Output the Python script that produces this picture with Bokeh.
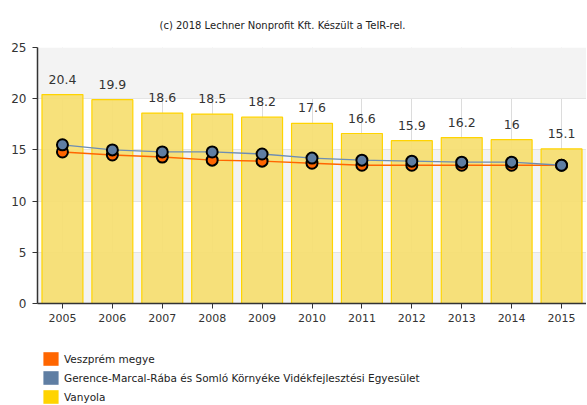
from bokeh.plotting import figure
from bokeh.layouts import column
from bokeh.models import ColumnDataSource, Legend, LegendItem, FactorRange, Range1d, FixedTicker, Title
from bokeh.embed import file_html
from bokeh.resources import INLINE
from bokeh.core.properties import value

years = ["2005", "2006", "2007", "2008", "2009", "2010", "2011", "2012", "2013", "2014", "2015"]
vanyola = [20.4, 19.9, 18.6, 18.5, 18.2, 17.6, 16.6, 15.9, 16.2, 16.0, 15.1]
veszprem = [14.8, 14.5, 14.3, 14.0, 13.9, 13.7, 13.5, 13.5, 13.5, 13.5, 13.5]
gerence = [15.5, 15.0, 14.8, 14.8, 14.6, 14.2, 14.0, 13.9, 13.8, 13.8, 13.5]
labels = ["20.4", "19.9", "18.6", "18.5", "18.2", "17.6", "16.6", "15.9", "16.2", "16", "15.1"]
series_names = ["Veszprém megye",
                "Gerence-Marcal-Rába és Somló Környéke Vidékfejlesztési Egyesület",
                "Vanyola"]
y_ticks = [0, 5, 10, 15, 20, 25]
band_ticks = [0, 0, 5, 10, 15, 20, 25]

FONT = "DejaVu Sans"
ORANGE = "#ff6600"
BLUE = "#5f7ea3"
YELLOW = "#ffd400"

src = ColumnDataSource(dict(x=years, van=vanyola, vesz=veszprem, ger=gerence, lab=labels))

p = figure(frame_width=549, frame_height=256, x_range=FactorRange(*years, range_padding=0),
           y_range=Range1d(0, 25), output_backend="svg", toolbar_location=None,
           min_border_left=37, min_border_right=0, min_border_top=0, min_border_bottom=45)

p.title = Title(text="(c) 2018 Lechner Nonprofit Kft. Készült a TeIR-rel.", align="left",
                offset=122, text_font=FONT, text_font_size="10px", text_font_style="normal",
                text_color="#222222", standoff=34)
p.outline_line_color = None
p.background_fill_color = "white"

# grids
p.ygrid.ticker = FixedTicker(ticks=band_ticks)
p.ygrid.grid_line_color = "#e4e4e4"
p.ygrid.band_fill_color = "#f3f3f3"
p.ygrid.band_fill_alpha = 1.0
p.xgrid.grid_line_color = "#dcdcdc"

# axes
p.yaxis.ticker = FixedTicker(ticks=y_ticks)
for ax in (p.xaxis, p.yaxis):
    ax.axis_line_color = "#333333"
    ax.axis_line_width = 1.5
    ax.major_tick_line_color = "#333333"
    ax.major_tick_out = 5
    ax.major_tick_in = 0
    ax.minor_tick_line_color = None
    ax.major_label_text_font = FONT
    ax.major_label_text_color = "#333333"
p.yaxis.major_label_text_font_size = "12px"
p.xaxis.major_label_text_font_size = "11px"
p.yaxis.major_label_standoff = 6
p.xaxis.major_label_standoff = 5

bars = p.vbar(x="x", top="van", width=0.82, source=src, fill_color="#f6de70", fill_alpha=0.92,
              line_color=YELLOW, line_width=1.2)
p.text(x="x", y="van", text="lab", source=src, text_align="center", text_baseline="bottom",
       y_offset=-11, text_font=value(FONT), text_font_size="12.5px", text_color="#333333")

p.line(x="x", y="vesz", source=src, line_color=ORANGE, line_width=1.4)
p.scatter(x="x", y="vesz", source=src, size=11, fill_color=ORANGE, line_color="black", line_width=2)
p.line(x="x", y="ger", source=src, line_color="#6d8db3", line_width=1.3)
p.scatter(x="x", y="ger", source=src, size=11, fill_color=BLUE, line_color="black", line_width=2)

# legend panel: a second, axis-less figure holding only the legend
lg = figure(frame_width=579, frame_height=57, x_range=FactorRange(*years), y_range=Range1d(0, 1),
            output_backend="svg", toolbar_location=None,
            min_border_left=0, min_border_right=0, min_border_top=0, min_border_bottom=0)
lg.axis.visible = False
lg.grid.visible = False
lg.outline_line_color = None
sw_src = ColumnDataSource(dict(x=years[:1], y=[0]))
sw = []
for c in (ORANGE, BLUE, YELLOW):
    sw.append(lg.vbar(x="x", top="y", bottom="y", width=0.5, source=sw_src,
                      fill_color=c, line_color=None))

legend = Legend(items=[LegendItem(label=n, renderers=[r]) for n, r in zip(series_names, sw)],
                location=(41, 0), orientation="vertical",
                glyph_width=19, glyph_height=17, spacing=2, label_standoff=4,
                label_text_font=FONT, label_text_font_size="10.5px", label_text_color="#222222",
                label_height=17, padding=0, margin=0,
                border_line_color=None, background_fill_alpha=0)
lg.add_layout(legend, "center")

layout = column(p, lg, spacing=0)
open("out.html", "w").write(file_html(layout, INLINE))
